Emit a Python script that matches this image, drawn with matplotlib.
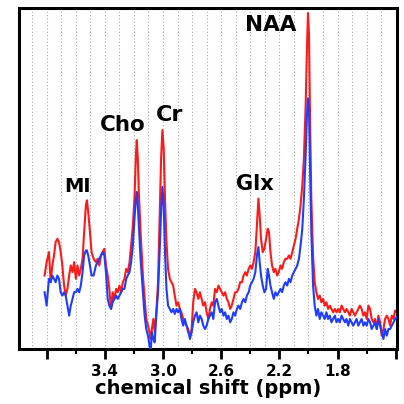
import matplotlib
matplotlib.use('Agg')
import matplotlib.pyplot as plt
import numpy as np
from matplotlib.ticker import FixedLocator

plt.rcParams['font.family'] = ['DejaVu Sans']

# chemical shift (ppm), shared by both spectra
ppm = [3.814, 3.800, 3.784, 3.772, 3.761, 3.749, 3.738, 3.726, 3.715, 3.703,
       3.692, 3.680, 3.669, 3.657, 3.645, 3.634, 3.622, 3.611, 3.599, 3.588,
       3.576, 3.565, 3.553, 3.542, 3.530, 3.523, 3.514, 3.502, 3.491, 3.477,
       3.461, 3.449, 3.438, 3.426, 3.415, 3.403, 3.392, 3.380, 3.369, 3.357,
       3.346, 3.334, 3.322, 3.311, 3.299, 3.288, 3.276, 3.265, 3.253, 3.242,
       3.230, 3.219, 3.207, 3.196, 3.186, 3.180, 3.173, 3.166, 3.154, 3.138,
       3.126, 3.115, 3.103, 3.092, 3.085, 3.076, 3.066, 3.057, 3.046, 3.034,
       3.023, 3.013, 3.004, 2.995, 2.986, 2.976, 2.965, 2.953, 2.942, 2.930,
       2.919, 2.907, 2.896, 2.884, 2.873, 2.861, 2.850, 2.838, 2.827, 2.815,
       2.803, 2.792, 2.780, 2.769, 2.757, 2.746, 2.734, 2.723, 2.711, 2.700,
       2.688, 2.677, 2.665, 2.654, 2.642, 2.630, 2.619, 2.607, 2.596, 2.584,
       2.573, 2.561, 2.550, 2.538, 2.527, 2.515, 2.504, 2.492, 2.481, 2.469,
       2.457, 2.446, 2.434, 2.423, 2.411, 2.400, 2.388, 2.377, 2.365, 2.354,
       2.344, 2.335, 2.326, 2.314, 2.303, 2.291, 2.280, 2.271, 2.261, 2.250,
       2.238, 2.227, 2.215, 2.204, 2.192, 2.181, 2.169, 2.158, 2.146, 2.134,
       2.123, 2.111, 2.100, 2.088, 2.077, 2.065, 2.054, 2.042, 2.031, 2.019,
       2.010, 2.003, 1.996, 1.989, 1.980, 1.968, 1.957, 1.945, 1.934, 1.922,
       1.911, 1.899, 1.888, 1.876, 1.865, 1.853, 1.842, 1.830, 1.818, 1.807,
       1.795, 1.784, 1.772, 1.761, 1.749, 1.738, 1.726, 1.715, 1.703, 1.692,
       1.680, 1.669, 1.657, 1.646, 1.634, 1.622, 1.611, 1.599, 1.588, 1.576,
       1.565, 1.553, 1.542, 1.530, 1.519, 1.507, 1.496, 1.484, 1.473, 1.461,
       1.450, 1.438, 1.427, 1.415, 1.404, 1.394]

red = [22, 26, 29, 20, 25, 28, 32, 33, 32, 29,
       25, 19, 16, 18, 22, 25, 23, 26, 21, 25,
       22, 24, 27, 35, 43, 44.5, 41, 35, 29, 27,
       26, 27, 25, 28, 29, 30, 25, 22, 18, 12,
       17, 15, 18, 17, 19, 17, 20, 21, 24, 23,
       26, 31, 37, 45, 58, 62.5, 57, 47, 35, 22,
       15, 9, 7, 5, 3, 6, 9, 5, 11, 20,
       40, 57, 65.5, 60, 45, 32, 24, 21, 20, 19,
       16, 13, 14, 12, 11, 9, 8, 7, 5, 4,
       6, 14, 18, 17, 15, 17, 15, 13, 14, 11,
       9, 12, 14, 13, 18, 17, 19, 18, 17, 16,
       17, 15, 14, 12, 13, 15, 17, 17, 18, 20,
       20, 22, 23, 22, 24, 25, 24, 26, 29, 37,
       45, 40, 33, 29, 30, 33, 36, 35, 29, 25,
       23, 24, 22, 23, 25, 24, 26, 27, 27, 28,
       27, 29, 31, 33, 36, 39, 43, 49, 57, 73,
       90, 100.5, 94, 70, 45, 28, 20, 17, 15, 16,
       14, 15, 13, 14, 12, 13, 12, 11, 12, 11,
       12, 11, 13, 12, 11, 12, 11, 10, 12, 11,
       10, 11, 12, 13, 12, 10, 11, 9, 13, 12,
       9, 8, 9, 6, 10, 8, 4, 6, 9, 10,
       9, 7, 10, 9, 11.5, 11]

blue = [17, 13, 21, 20, 22, 21, 20, 22, 21, 17,
        16, 17, 16, 13, 10, 13, 15, 17, 17, 18,
        17, 19, 23, 28, 29.5, 29.5, 28, 25, 22, 22,
        25, 26, 27, 28, 29, 28, 23, 15, 13, 12,
        14, 15, 16, 15, 16, 17, 18, 18, 21, 22,
        23, 26, 31, 39, 45, 47, 43, 37, 27, 17,
        10, 6, 4, 1, -1, 5, 3, 2, 10, 17,
        29, 41, 48.5, 43, 29, 18, 13, 12, 11, 12,
        10.5, 12, 11, 12, 9, 7, 9, 7, 6, 3,
        5, 8, 10, 11, 8, 10, 9, 7, 6, 7,
        9, 10, 11, 9, 14, 15, 13, 11, 12, 10,
        11, 9, 10, 8, 9, 11, 10, 12, 13, 12,
        14, 15, 14, 16, 17, 19, 20, 21, 23, 28,
        30.5, 26, 22, 19, 17, 18, 24, 22, 19, 17,
        15, 17, 16, 17, 18, 17, 19, 20, 19, 21,
        20, 22, 23, 24, 25, 27, 31, 36, 45, 58,
        70, 75, 72, 55, 35, 19, 13, 10, 12, 9,
        11, 10, 9, 11, 9, 10, 8, 9, 10, 8,
        9, 8, 10, 9, 8, 9, 7, 9, 8, 7,
        8, 9, 7, 8, 9, 7, 8, 7, 9, 8,
        6, 7, 8, 6, 9, 7, 5, 3, 6, 4,
        6, 6, 7, 8, 9, 9.5]

peak_names = ['MI', 'Cho', 'Cr', 'Glx', 'NAA']
peak_x = [3.585, 3.274, 2.956, 2.367, 2.257]
peak_y = [48.5, 67, 70, 49.5, 97]
peak_size = [14, 15.5, 16, 15, 15.5]

major_ticks = [3.8, 3.4, 3.0, 2.6, 2.2, 1.8, 1.4]
major_labels = ['', '3.4', '3.0', '2.6', '2.2', '1.8', '']
minor_ticks = [3.6, 3.2, 2.8, 2.4, 2.0, 1.6]
grid_ppm = [3.9, 3.8, 3.7, 3.6, 3.5, 3.4, 3.3, 3.2, 3.1, 3.0, 2.9, 2.8, 2.7,
            2.6, 2.5, 2.4, 2.3, 2.2, 2.1, 2.0, 1.9, 1.8, 1.7, 1.6, 1.5]

fig = plt.figure(figsize=(4.04, 4.04), dpi=100)
ax = fig.add_axes([0.047, 0.136, 0.936, 0.844])

ax.vlines(grid_ppm, 0, 1, transform=ax.get_xaxis_transform(),
          colors='#a8a8a8', linestyles=(0, (1, 2)), linewidth=0.8, zorder=0)

ax.plot(ppm, red, color='#ff1a1a', linewidth=1.5, zorder=2)
ax.plot(ppm, blue, color='#1f3dff', linewidth=1.5, zorder=3)

for name, x, y, s in zip(peak_names, peak_x, peak_y, peak_size):
    ax.text(x, y, name, ha='center', va='center', fontsize=s, fontweight='bold')

ax.set_xlim(3.99, 1.39)
ax.set_ylim(0, 102)
ax.set_yticks([])
ax.xaxis.set_major_locator(FixedLocator(major_ticks))
ax.set_xticklabels(major_labels)
ax.xaxis.set_minor_locator(FixedLocator(minor_ticks))
ax.tick_params(axis='x', which='major', length=7, width=2, labelsize=11, pad=4)
ax.tick_params(axis='x', which='minor', length=3.5, width=1.5)
for lab in ax.get_xticklabels():
    lab.set_fontweight('bold')
ax.set_xlabel('chemical shift (ppm)', fontsize=14, fontweight='bold', labelpad=0)

for sp in ax.spines.values():
    sp.set_linewidth(2.2)

plt.savefig('out.png', dpi=100)
